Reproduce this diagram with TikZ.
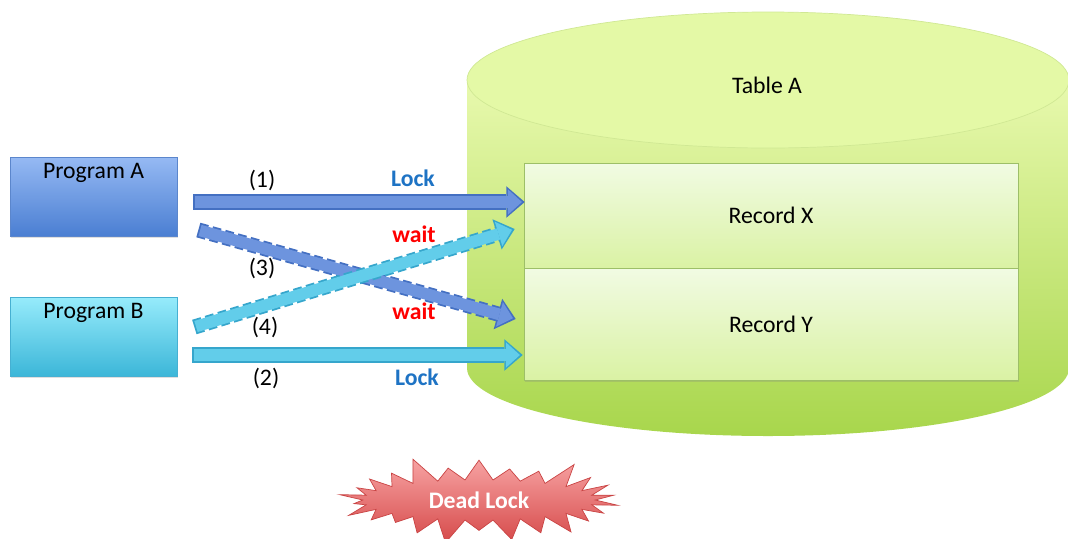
\documentclass[tikz,border=0pt]{standalone}
\usepackage{fontspec}
\setmainfont{Carlito}
\usepackage{tikz}
\usetikzlibrary{arrows.meta,calc,positioning,shapes.symbols,shadows}
\definecolor{progAtop}{HTML}{95B9F3}
\definecolor{progAbot}{HTML}{4A7ED2}
\definecolor{progAedge}{HTML}{5B86CC}
\definecolor{progBtop}{HTML}{96EBFB}
\definecolor{progBbot}{HTML}{3BB6D8}
\definecolor{progBedge}{HTML}{46B0D2}
\definecolor{arrA}{HTML}{6D94DE}
\definecolor{arrAedge}{HTML}{4470C2}
\definecolor{arrB}{HTML}{62CDEA}
\definecolor{arrBedge}{HTML}{36A6CC}
\definecolor{cylTop}{HTML}{E8F9AE}
\definecolor{cylBot}{HTML}{A8D64C}
\definecolor{lidFill}{HTML}{E4F9A6}
\definecolor{lidEdge}{HTML}{D0E894}
\definecolor{recTop}{HTML}{F1FBE3}
\definecolor{recBot}{HTML}{DAF2A4}
\definecolor{recEdge}{HTML}{9DBF68}
\definecolor{lockblue}{HTML}{1E73C4}
\definecolor{burstTop}{HTML}{F7A3A3}
\definecolor{burstBot}{HTML}{D64A4A}
\definecolor{burstEdge}{HTML}{C94444}
\newcommand{\lblfont}{\fontsize{13.5}{16}\selectfont}
% fat arrow: [dash] fill, edge, from, to
\newcommand{\fatarrow}[5][solid]{%
  \draw[#1, line width=8.6pt, draw=#3, -{Triangle[length=10.5pt,width=18pt,line width=0pt]}] (#4) -- (#5);
  \draw[line width=6.6pt, draw=#2, shorten <=1pt, shorten >=1.6pt, -{Triangle[length=8pt,width=14.5pt,line width=0pt]}] (#4) -- (#5);}

\begin{document}
\begin{tikzpicture}[x=0.02cm,y=-0.02cm,
    every node/.style={font=\lblfont},
    prog/.style={rectangle, draw=#1edge, top color=#1top, bottom color=#1bot,
      minimum width=3.34cm, minimum height=1.58cm,
      drop shadow={opacity=0.25,shadow xshift=0.8pt,shadow yshift=-1pt}},
    record/.style={rectangle, draw=recEdge, top color=recTop, bottom color=recBot,
      minimum width=9.88cm,
      drop shadow={opacity=0.25,shadow xshift=0.8pt,shadow yshift=-1pt}},
    lock/.style={text=lockblue, font=\lblfont\bfseries},
    waitlbl/.style={text=red, font=\lblfont\bfseries},
    burst/.style={starburst, starburst points=26, starburst point height=0.55cm,
      minimum width=5.75cm, minimum height=1.58cm, top color=burstTop,
      bottom color=burstBot, draw=burstEdge, text=white, font=\lblfont\bfseries}]
  \clip (0,0) rectangle (1068,538);
  % Table (cylinder)
  \shade[top color=cylTop, bottom color=cylBot] (467,80) -- (467,368)
    arc[start angle=180, end angle=0, x radius=301, y radius=68] -- (1069,80) -- cycle;
  \draw[draw=lidEdge, fill=lidFill] (768,80) ellipse[x radius=301, y radius=68];
  \node (table) at (767,85) {Table A};
  % Records
  \node[record, minimum height=2.1cm] (recX) at (771,215.5) {Record X};
  \node[record, minimum height=2.24cm] (recY) at (771,324) {Record Y};
  % Programs
  \node[prog=progA, label={[anchor=center,yshift=-9pt]north:Program A}] (progA) at (93.5,197) {};
  \node[prog=progB, label={[anchor=center,yshift=-9pt]north:Program B}] (progB) at (93.5,337) {};
  % Arrows
  \fatarrow{arrA}{arrAedge}{$(progA.east)+(16,5)$}{$(recX.west)+(1,-13.5)$}
  \fatarrow{arrB}{arrBedge}{$(progB.east)+(15,18)$}{$(recY.west)+(-1,31)$}
  \fatarrow[dash pattern=on 5pt off 2.5pt]{arrA}{arrAedge}{$(progA.east)+(21,33)$}{$(recY.west)+(-8,-5)$}
  \fatarrow[dash pattern=on 5pt off 2.5pt]{arrB}{arrBedge}{$(progB.east)+(17,-10)$}{$(recX.west)+(-9,13.5)$}
  % Labels
  \node (n1) at (262,180) {(1)};
  \node[lock] (lock1) at (413,178) {Lock};
  \node[waitlbl] (wait1) at (414,234) {wait};
  \node (n3) at (262,268) {(3)};
  \node (n4) at (265,327) {(4)};
  \node[waitlbl] (wait2) at (414,311) {wait};
  \node (n2) at (266,378) {(2)};
  \node[lock] (lock2) at (417,377) {Lock};
  % Dead lock
  \node[burst] (dead) at (479,500) {Dead Lock};
\end{tikzpicture}
\end{document}
